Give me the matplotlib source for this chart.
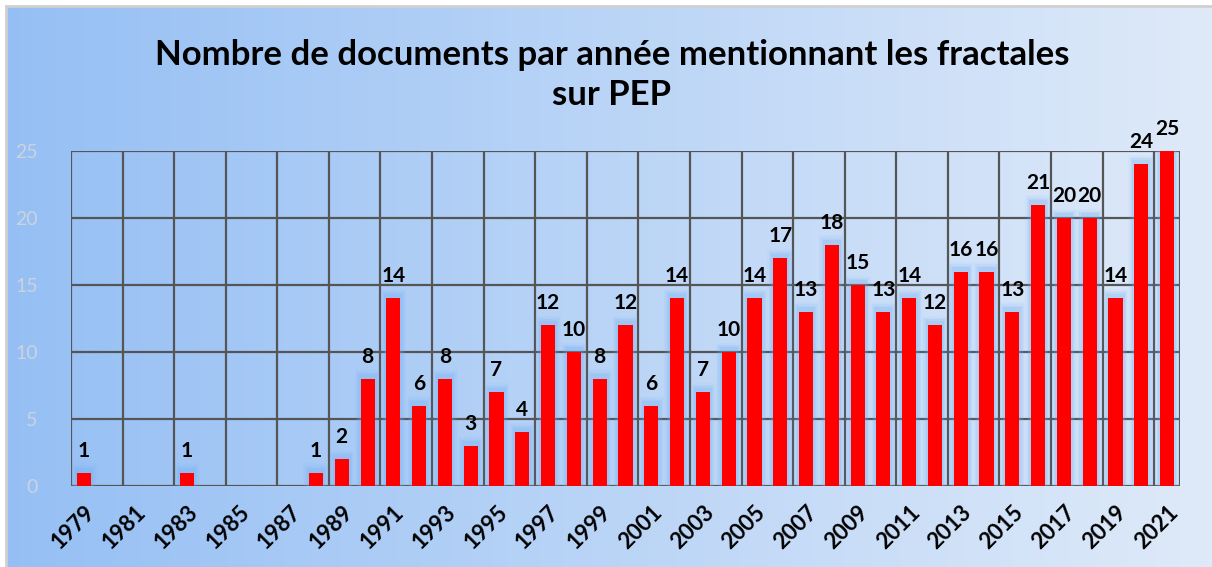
import numpy as np
import matplotlib
matplotlib.use("Agg")
import matplotlib.pyplot as plt
from matplotlib.patches import Rectangle

years = list(range(1979, 2022))
values = [1, 0, 0, 0, 1, 0, 0, 0, 0, 1, 2, 8, 14, 6, 8, 3, 7, 4, 12, 10, 8, 12,
          6, 14, 7, 10, 14, 17, 13, 18, 15, 13, 14, 12, 16, 16, 13, 21, 20, 20,
          14, 24, 25]
yticks = [0, 5, 10, 15, 20, 25]
title = "Nombre de documents par année mentionnant les fractales\nsur PEP"

W, H = 1212, 567
fig = plt.figure(figsize=(W / 100, H / 100), dpi=100)

# background gradient
bg = fig.add_axes([0, 0, 1, 1])
c0 = np.array([0x95, 0xBF, 0xF4]) / 255
c1 = np.array([0xDF, 0xEA, 0xF9]) / 255
t = np.linspace(0, 1, 256)
grad = (c0[None, :] * (1 - t[:, None]) + c1[None, :] * t[:, None])[None, :, :]
bg.imshow(grad, aspect="auto", extent=[0, 1, 0, 1])
bg.set_xlim(0, 1); bg.set_ylim(0, 1)
bg.axis("off")
bg.add_patch(Rectangle((0, 1 - 6 / H), 1, 6 / H, facecolor="white", edgecolor="none"))
bg.add_patch(Rectangle((0, 0), 6 / W, 1, facecolor="white", edgecolor="none"))
bg.plot([6 / W, 6 / W], [0, 1 - 6 / H], color="#D0D0D0", lw=2)
bg.plot([6 / W, 1], [1 - 6 / H, 1 - 6 / H], color="#D0D0D0", lw=2)

left, right, top, bottom = 71, 1180, 151, 486
ax = fig.add_axes([left / W, 1 - bottom / H, (right - left) / W, (bottom - top) / H])
ax.set_facecolor("none")
x = np.arange(len(years))
ax.set_xlim(-0.5, len(years) - 0.5)
ax.set_ylim(0, 25)

# grid
for yv in yticks:
    ax.axhline(yv, color="#555555", lw=1.6, zorder=1)
for gx in np.arange(-0.5, len(years), 2):
    ax.axvline(gx, color="#555555", lw=1.6, zorder=1)
ax.axvline(len(years) - 0.5, color="#555555", lw=1.6, zorder=1)

# glow
for w, a, dy in [(1.0, 0.06, 0.7), (0.9, 0.09, 0.55), (0.8, 0.12, 0.45), (0.7, 0.16, 0.35)]:
    ax.bar(x, [v + dy if v > 0 else 0 for v in values], width=w, color="#6FAEF5",
           alpha=a, zorder=2, linewidth=0)
ax.bar(x, values, width=0.55, color="#FF0000", zorder=3, linewidth=0, clip_on=False)

for xi, v in zip(x, values):
    if v > 0:
        ax.text(xi, v + 0.9, str(v), ha="center", va="bottom", fontsize=15,
                fontweight="bold", family="Lato", color="black", zorder=5, clip_on=False)

for s in ax.spines.values():
    s.set_visible(False)
ax.set_yticks(yticks)
ax.set_yticklabels([str(v) for v in yticks], fontsize=14, color="#CDD3DC", family="Lato")
ax.tick_params(axis="y", length=0, pad=24)
ax.set_xticks(x[::2])
ax.set_xticklabels([str(y) for y in years[::2]], rotation=45, ha="right",
                   rotation_mode="anchor", fontsize=16, fontweight="bold", family="Lato")
ax.tick_params(axis="x", length=0, pad=11)

fig.text(612 / W, 1 - 75 / H, title, ha="center", va="center", fontsize=25,
         fontweight="bold", family="Lato", linespacing=1.3)

fig.savefig("out.png", dpi=100)
